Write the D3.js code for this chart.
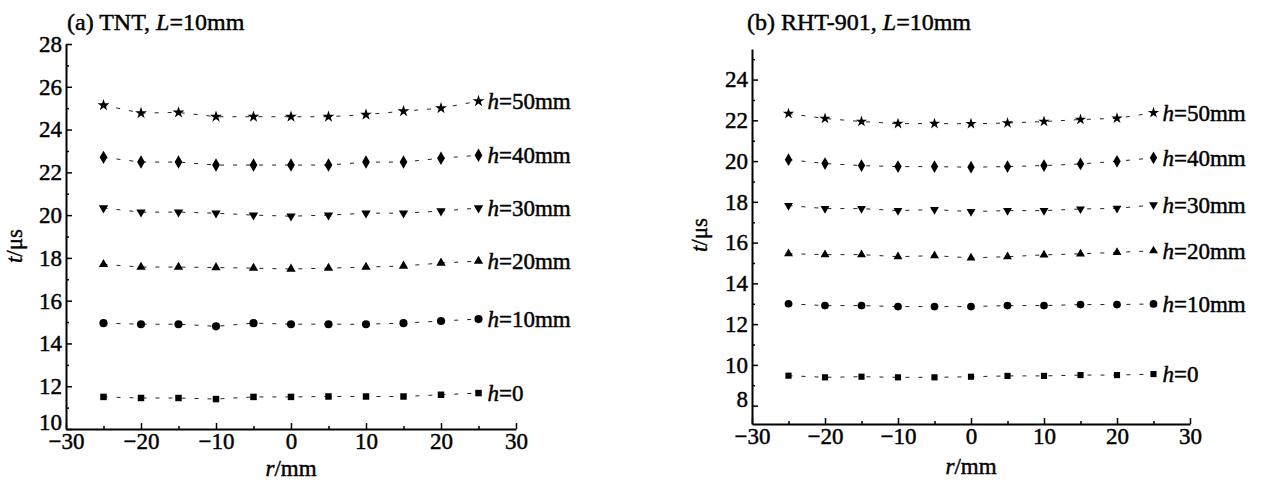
<!DOCTYPE html>
<html>
<head>
<meta charset="utf-8">
<script src="https://cdn.jsdelivr.net/npm/d3@7"></script>
<style>
  body { margin: 0; background: #fff; }
  svg { display: block; }
  svg text { font-family: "Liberation Serif", "Times New Roman", Times, "DejaVu Serif", serif !important; fill: #000; stroke: #000; stroke-width: 0.45px; }
  .axis path, .axis line { stroke: #000; }
  .axis text { font-size: 23px; }
</style>
</head>
<body>
<svg id="chart" width="1263" height="484"></svg>
<script>
// radial positions (mm)
var radii = [-25, -20, -15, -10, -5, 0, 5, 10, 15, 20, 25];
var seriesNames = ["0", "10mm", "20mm", "30mm", "40mm", "50mm"];

// (a) TNT arrival times (us)
var tntH0 = [11.5, 11.45, 11.45, 11.4, 11.5, 11.5, 11.52, 11.52, 11.52, 11.6, 11.68];
var tntH10 = [14.95, 14.9, 14.9, 14.8, 14.95, 14.9, 14.9, 14.9, 14.95, 15.05, 15.14];
var tntH20 = [17.7, 17.57, 17.57, 17.55, 17.52, 17.48, 17.52, 17.57, 17.62, 17.76, 17.85];
var tntH30 = [20.33, 20.14, 20.14, 20.09, 20.0, 19.95, 20.0, 20.09, 20.09, 20.19, 20.33];
var tntH40 = [22.7, 22.48, 22.48, 22.34, 22.34, 22.34, 22.34, 22.48, 22.48, 22.66, 22.8];
var tntH50 = [25.14, 24.77, 24.8, 24.6, 24.6, 24.6, 24.6, 24.7, 24.86, 25.0, 25.33];

// (b) RHT-901 arrival times (us)
var rhtH0 = [9.47, 9.39, 9.42, 9.39, 9.39, 9.42, 9.46, 9.46, 9.5, 9.5, 9.55];
var rhtH10 = [13.0, 12.91, 12.91, 12.86, 12.86, 12.86, 12.91, 12.91, 12.96, 12.96, 12.99];
var rhtH20 = [15.46, 15.41, 15.41, 15.31, 15.36, 15.25, 15.31, 15.4, 15.45, 15.52, 15.6];
var rhtH30 = [17.82, 17.67, 17.67, 17.57, 17.62, 17.52, 17.57, 17.57, 17.65, 17.68, 17.85];
var rhtH40 = [20.07, 19.88, 19.78, 19.73, 19.73, 19.7, 19.73, 19.78, 19.86, 19.99, 20.16];
var rhtH50 = [22.33, 22.09, 21.94, 21.84, 21.84, 21.83, 21.87, 21.94, 22.04, 22.1, 22.37];

var xTicks = [-30, -20, -10, 0, 10, 20, 30];
var xMinor = [-25, -15, -5, 5, 15, 25];
var tntYTicks = [10, 12, 14, 16, 18, 20, 22, 24, 26, 28];
var tntYMinor = [11, 13, 15, 17, 19, 21, 23, 25, 27];
var rhtYTicks = [8, 10, 12, 14, 16, 18, 20, 22, 24];
var rhtYMinor = [9, 11, 13, 15, 17, 19, 21, 23, 25];

var svg = d3.select("#chart");
svg.append("rect").attr("width", 1263).attr("height", 484).attr("fill", "#fff");

// marker shapes per series: square, circle, up, down, diamond, star
var shapes = [
  {type: d3.symbolSquare, size: 42, rot: 0},
  {type: d3.symbolCircle, size: 52, rot: 0},
  {type: d3.symbolTriangle, size: 38, rot: 0},
  {type: d3.symbolTriangle, size: 38, rot: 180},
  {type: d3.symbolDiamond, size: 52, rot: 0},
  {type: d3.symbolStar, size: 44, rot: 0}
];

function drawPanel(p) {
  var x = d3.scaleLinear().domain([-30, 30]).range([p.left, p.right]);
  var y = d3.scaleLinear().domain(p.yDomain).range([p.bottom, p.top]);
  var g = svg.append("g");

  // minor ticks first
  g.append("g").attr("class", "axis")
    .attr("transform", "translate(0," + p.bottom + ")")
    .call(d3.axisBottom(x).tickValues(xMinor).tickSize(-3).tickFormat(""))
    .call(a => a.select(".domain").remove());
  g.append("g").attr("class", "axis")
    .attr("transform", "translate(" + p.left + ",0)")
    .call(d3.axisLeft(y).tickValues(p.yMinor).tickSize(-3).tickFormat(""))
    .call(a => a.select(".domain").remove());

  g.append("g").attr("class", "axis")
    .attr("transform", "translate(0," + p.bottom + ")")
    .call(d3.axisBottom(x).tickValues(xTicks).tickSize(-6).tickSizeOuter(0).tickPadding(4)
      .tickFormat(d => d < 0 ? "\u2212" + Math.abs(d) : d));
  var ya = g.append("g").attr("class", "axis")
    .attr("transform", "translate(" + p.left + ",0)")
    .call(d3.axisLeft(y).tickValues(p.yTicks).tickSize(-6).tickSizeOuter(0).tickPadding(4));
  // lowest y label sits a little above the corner, as in the print
  ya.selectAll(".tick text").filter(d => d === p.yTicks[0]).attr("dy", "0.02em");
  g.selectAll(".axis .domain").attr("stroke-width", 2);
  g.selectAll(".axis .tick line").attr("stroke-width", 1.5);

  p.series.forEach(function (vals, i) {
    var pts = radii.map((r, j) => ({r: r, t: vals[j]}));
    g.append("path")
      .datum(pts)
      .attr("fill", "none")
      .attr("stroke", "#222")
      .attr("stroke-width", 1)
      .attr("stroke-dasharray", "4,9")
      .attr("d", d3.line().x(d => x(d.r)).y(d => y(d.t)));

    var s = shapes[i];
    g.selectAll(null)
      .data(pts)
      .enter()
      .append("path")
      .attr("transform", d => "translate(" + x(d.r) + "," + y(d.t) + ") rotate(" + s.rot + ")")
      .attr("d", d3.symbol().type(s.type).size(s.size * p.scale))
      .attr("fill", "#000");

    var last = pts[pts.length - 1];
    var lab = g.append("text")
      .attr("x", x(last.r) + 9)
      .attr("y", y(last.t) + 8)
      .attr("font-size", 23);
    lab.append("tspan").attr("font-style", "italic").text("h");
    lab.append("tspan").text("=" + seriesNames[i]);
  });

  // panel title
  var t = g.append("text").attr("x", p.titleX).attr("y", 30).attr("font-size", 24);
  t.append("tspan").text(p.title + " ");
  t.append("tspan").attr("font-style", "italic").text("L");
  t.append("tspan").text("=10mm");

  // axis titles
  var xl = g.append("text").attr("x", (p.left + p.right) / 2).attr("y", p.xLabelY)
    .attr("text-anchor", "middle").attr("font-size", 23);
  xl.append("tspan").attr("font-style", "italic").text("r");
  xl.append("tspan").text("/mm");

  var yl = g.append("text")
    .attr("transform", "translate(" + p.yLabelX + "," + p.yLabelY + ") rotate(-90)")
    .attr("text-anchor", "middle").attr("font-size", 23);
  yl.append("tspan").attr("font-style", "italic").text("t");
  yl.append("tspan").text("/\u03bcs");
}

drawPanel({
  left: 66, right: 516, top: 44, bottom: 429,
  yDomain: [10, 28], yTicks: tntYTicks, yMinor: tntYMinor,
  series: [tntH0, tntH10, tntH20, tntH30, tntH40, tntH50],
  title: "(a) TNT,", titleX: 67,
  xLabelY: 476, yLabelX: 22, yLabelY: 246, scale: 1
});

drawPanel({
  left: 752, right: 1190, top: 49, bottom: 424,
  yDomain: [7.1, 25.5], yTicks: rhtYTicks, yMinor: rhtYMinor,
  series: [rhtH0, rhtH10, rhtH20, rhtH30, rhtH40, rhtH50],
  title: "(b) RHT-901,", titleX: 747,
  xLabelY: 474, yLabelX: 707, yLabelY: 235, scale: 0.9
});
</script>
</body>
</html>
